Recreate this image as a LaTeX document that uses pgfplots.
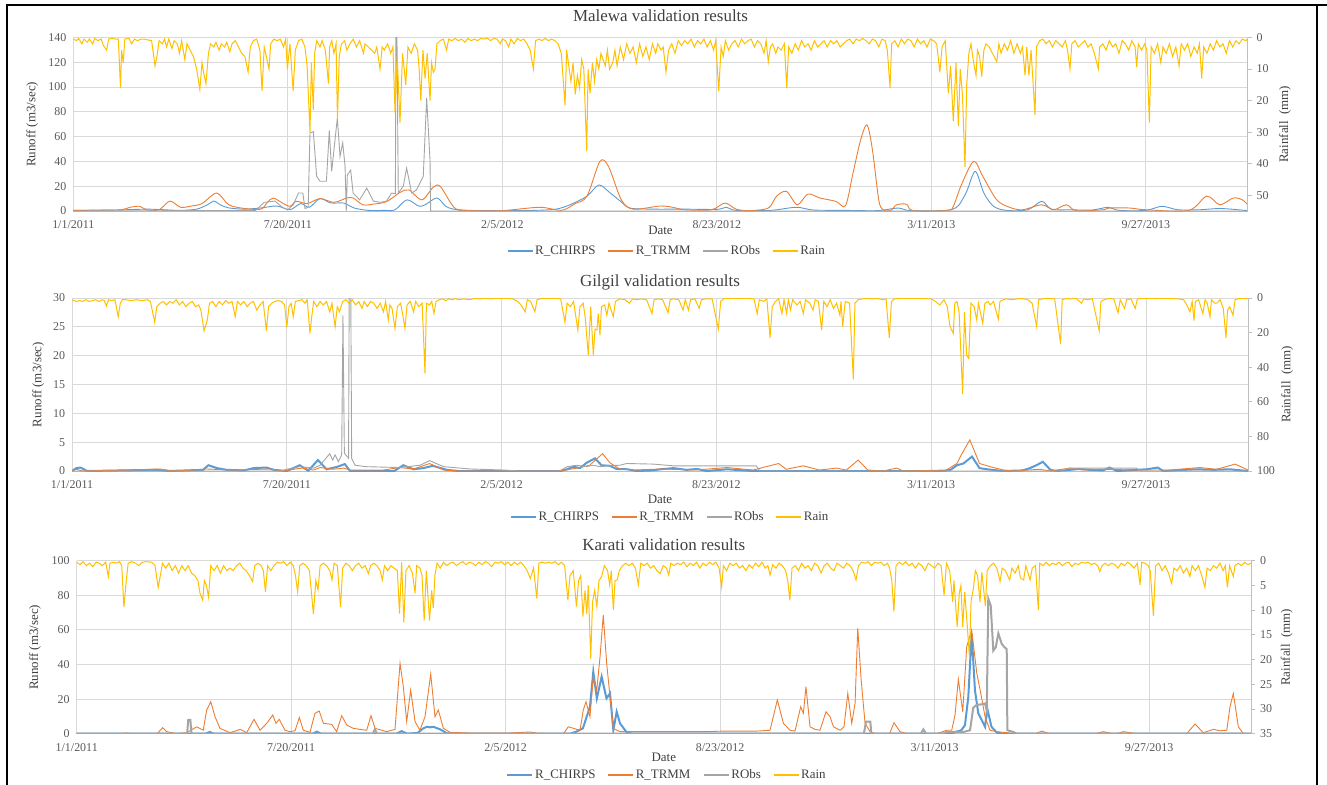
\documentclass[border=0pt]{standalone}
\usepackage{fontspec}
\setmainfont{Liberation Serif}
\usepackage{pgfplots}
\pgfplotsset{compat=1.18}
\definecolor{cblue}{HTML}{5B9BD5}
\definecolor{corange}{HTML}{ED7D31}
\definecolor{cgray}{HTML}{A5A5A5}
\definecolor{cgold}{HTML}{FFC000}
\definecolor{gridc}{HTML}{D9D9D9}
\definecolor{axc}{HTML}{BFBFBF}
\definecolor{txt}{HTML}{595959}
\definecolor{lab}{HTML}{404040}
\pgfplotsset{
  base/.style={
    scale only axis, xmin=0, xmax=1095, ymin=0,
    /pgf/number format/assume math mode=true,
    tick label style={font=\fontsize{12}{14}\selectfont, text=txt},
    label style={font=\fontsize{13}{15}\selectfont, text=lab},
  },
  leftax/.style={base,
    axis x line*=bottom, axis y line*=left,
    x axis line style={draw=axc, line width=0.9bp},
    y axis line style={draw=none},
    major tick length=0pt,
    xtick={0,200,400,600,800,1000},
    xticklabels={1/1/2011,7/20/2011,2/5/2012,8/23/2012,3/11/2013,9/27/2013},
    xmajorgrids, ymajorgrids,
    grid style={draw=gridc, line width=0.9bp},
    xticklabel style={yshift=-6bp},
    yticklabel style={xshift=-3.5bp},
    xlabel={Date}, ylabel={Runoff (m3/sec)},
    title style={font=\fontsize{17}{19}\selectfont, text=lab, anchor=center},
  },
  rightax/.style={base,
    axis y line*=right, axis x line=none,
    y dir=reverse,
    y axis line style={draw=axc, line width=0.9bp},
    ytick style={draw=axc, line width=0.9bp},
    tick align=outside, major tick length=4bp,
    yticklabel style={xshift=1.5bp},
    ylabel={Rainfall\ \ (mm)},
    legend columns=4,
    legend style={draw=none, fill=none, font=\fontsize{13}{15}\selectfont, text=lab, anchor=center, /tikz/every even column/.append style={column sep=10bp}},
    legend image code/.code={\draw[#1] (0bp,0bp) -- (25bp,0bp);},
  },
}
\begin{document}
\begin{tikzpicture}
\path[use as bounding box] (0,0) rectangle (1327bp,-785bp);
\draw[black, line width=1.3bp] (7bp,-785bp) -- (7bp,-5bp) -- (1327bp,-5bp);
\draw[black, line width=1.6bp] (1316.7bp,-5bp) -- (1316.7bp,-785bp);

%================ MALEWA =================
\begin{axis}[leftax, at={(73.3bp,-37.5bp)}, anchor=north west, width=1174.4bp, height=173.5bp,
  ymax=140, ytick={0,20,...,140},
  title={Malewa validation results}, title style={at={(axis description cs:0.5,1.089)}},
  xlabel style={at={(axis description cs:0.5,-0.1095)}, anchor=center},
  ylabel style={at={(axis description cs:-0.0349,0.5)}, anchor=center}]
\addplot[cblue, line width=0.9bp, smooth, tension=0.5] coordinates {(0,0.5)(20,0.6)(40,0.8)(55,1.2)(70,1.5)(85,1)(100,0.5)(115,1.5)(125,5)(131,8)(137,5)(145,2.5)(160,1.5)(175,2.5)(190,4)(202,1)(212,6)(220,3)(230,10)(240,6.5)(252,6.4)(262,2.4)(275,0.5)(290,0.5)(300,1)(311,9)(322,4)(328,5)(339,10.5)(347,4)(354,1.6)(370,0.5)(400,0.3)(430,0.5)(450,1.5)(463,5)(479,12)(490,21)(500,15)(510,8)(519,2.4)(540,1.5)(570,1.5)(600,1.3)(609,3)(618,0.5)(650,0.5)(674,3)(690,0.8)(720,0.5)(750,0.3)(769,2.4)(780,0.3)(810,0.3)(820,1.5)(826,5)(833,15.8)(841,32)(849,14.5)(858,3.8)(870,0.5)(890,1)(903,7.8)(912,1.5)(930,1)(950,0.8)(965,3)(975,0.5)(1000,0.5)(1015,3.8)(1030,1)(1050,1)(1070,2)(1095,0.3)};
\addplot[corange, line width=0.9bp, smooth, tension=0.5] coordinates {(0,0.5)(30,0.8)(45,1)(53,3)(62,3.8)(68,1)(80,1)(90,8)(100,3)(110,4)(120,6)(133.7,14.5)(145,5)(160,2)(175,1.5)(181,7)(186.5,10.5)(195,6.4)(202,3.8)(208,7.8)(218,6)(230,10)(243,7)(255,10.5)(261,10.5)(270,5)(280,5.6)(292,7.5)(304.6,15)(313,17)(325,9)(335.7,19.3)(342,20)(352,6.4)(358,1)(370,0.3)(400,0.3)(435,3)(455,0.5)(468,6)(479,12)(491,40)(499,36)(511,9)(522,1.5)(547,4)(559,3)(570,1)(595,1)(607.6,6.4)(618,1.5)(630,0.3)(648,2.4)(655.8,12)(665,15.8)(675,5)(685,13.7)(696,10.5)(711,7.8)(720,4.3)(727,30.6)(734,57)(740,69.5)(745,50)(751,9)(755,1)(762,0.3)(767.7,5)(777,5.4)(783,0.3)(815,0.5)(820.5,3.8)(828,21)(839.5,40)(848,28)(861,9)(873,3)(885,1)(903,5)(914,1)(926,5)(935,0.3)(960,1)(966,2.4)(985,2.4)(1000,1)(1040,0.5)(1056.8,12)(1069,5)(1081.6,10.5)(1090,9)(1095,5)};
\addplot[cgray, line width=0.9bp] coordinates {(0,0)(170,0.5)(178,7)(188,8)(195,3)(200,1)(205,5)(210,14.5)(214,14.5)(216,2)(219,3)(220.7,63)(223.8,64)(226.9,28)(230,24)(236,24)(238.7,65)(240.9,32)(246.2,75)(248.7,44)(251.2,55)(253.4,36)(254.5,0)(255.5,29)(258.6,33)(260.9,14.5)(267,9)(273.6,18.5)(279.8,8)(286,7)(292,8)(296.8,14.5)(300.3,14)(300.9,160)(301.6,160)(303,14.5)(307.7,20)(310.8,34.6)(315.5,14.5)(320,17)(326.3,28)(329.5,91)(332.6,41)(333.2,0)(1095,0)};
\end{axis}
\begin{axis}[rightax, at={(73.3bp,-37.5bp)}, anchor=north west, width=1174.4bp, height=173.5bp,
  ymax=55, ytick={0,10,...,50},
  ylabel style={at={(axis description cs:1.0318,0.5)}, anchor=center},
  legend style={at={(0.5055,-0.2305)}}]
\addlegendimage{cblue, line width=1.2bp}\addlegendentry{R\_CHIRPS}
\addlegendimage{corange, line width=1.2bp}\addlegendentry{R\_TRMM}
\addlegendimage{cgray, line width=1.2bp}\addlegendentry{RObs}
\addplot[cgold, line width=1bp, forget plot] coordinates {(0,0.5)(3,1)(5,0.3)(8,2)(10,0.5)(13,1.5)(15,0.5)(18,2)(20,0.3)(23,1)(26,0.5)(28,2.5)(31,4)(33,0.5)(36,0.3)(40,0.5)(42,0.5)(44,16)(45,4)(46.6,8)(48,0.5)(52,0.3)(54.4,2)(57,0.5)(60,1)(63,0.5)(66,0.5)(70,0.8)(73,1)(76.2,9)(78,6)(80,1)(83,2)(85,0.5)(87,3)(89,0.5)(92,3.5)(94,1)(97,2)(99,5)(101,1)(104,7)(106,2)(109,4)(112,6)(115,10)(118,16.5)(120,8)(122,12)(123.7,14.6)(126,5)(128,2)(131,3)(133,1.5)(136,4)(138,2)(141,3)(143,1.5)(146,4.5)(148,2)(151,1)(154,3)(157,5)(160,6)(163,11)(165,3)(168,1)(171,0.5)(174,4)(176,17)(178,3)(180,6)(182.5,10)(184,2)(187,0.5)(190,1)(193,0.5)(196,3)(198,0.5)(199.6,10)(202,2)(205,17)(207,4)(210,1)(213,0.5)(216,3)(218,9)(220.7,30)(222,8)(223.8,23)(225,5)(227,1)(230,3)(232,1)(235,4)(237.9,14.6)(239,3)(241,1)(243,5)(245,2)(246.3,25.7)(248,6)(250,2)(253,1)(255,4)(258,2)(261,0.5)(264,3)(267,1)(270.6,5)(272,2)(275,3)(278,4)(281,5)(283,3)(286,10)(288,3)(290,4)(293,2)(296,5)(298,3)(300,24)(302,6)(304.6,27)(307,5)(310,15)(312,3)(315,5)(318,2)(321,4)(322.5,10)(324,20)(326,4)(328,13)(330,5)(332.6,20)(334,8)(335.7,11)(337.3,10)(339,2)(342,1)(345,0.5)(348,4)(350,0.5)(353,1)(356,0.3)(359,1)(362,0.5)(365,1.5)(368,0.3)(371,1)(374,0.5)(377,1)(380,0.3)(383,0.5)(386,0.2)(389,1)(392,0.3)(395,0.5)(398,2)(400,0.5)(403,1)(406,3)(408,0.5)(411,2)(414,0.3)(417,1)(420,0.5)(423,2)(426,4)(429,10)(431,1)(434,0.5)(437,1)(440,0.3)(443,1)(446,0.5)(449,1)(452,2)(455,5)(458.5,21.5)(460,4)(462,9)(464,14)(466,8)(468,18)(470,12)(472,16)(474,7)(476,10)(478.7,36)(480,10)(481.8,17.7)(484,8)(486,14)(488,7)(490,10)(492,5)(494,7)(496,9)(498,4)(500,10)(503,8)(505,4)(507,9)(510,3)(513,7)(516,2)(519,5)(522,3)(525,8)(528,2)(531,6)(534,3)(537,7)(540,2)(543,5)(545,2)(548,4)(550,3)(552.6,11)(555,4)(558,2)(561,5)(564,1)(567,2.5)(570,1)(573,2)(576,0.5)(579,3)(582,1)(585,2)(588,0.5)(591,3)(594,1)(597,4)(599,1)(601.8,17)(604,3)(606,6)(608,1)(611,4)(614,2)(617,1)(620,3)(623,0.5)(626,2)(629,1)(632,0.5)(635,3)(638,1)(641,2)(644,5)(646,1)(648,7.7)(650,3)(652,2)(655,5)(657,3)(660,4)(663,2)(665.2,16)(667,3)(670,5)(673,2)(676,4)(679,1)(682,3)(685,2)(688,4)(691,1)(694,3)(697,2)(700,1)(703,3)(706,1)(709,2)(712,1)(715,3)(718,2)(721,1)(724,0.5)(727,2)(730,0.5)(733,1)(736,0.3)(739,1)(742,2)(745,0.5)(748,1)(751,3)(754,0.5)(757,1)(759,4)(761.5,16)(763,2)(766,1)(769,3)(772,0.5)(775,2)(778,0.5)(781,1)(784,3)(787,0.5)(790,2)(793,1)(796,3)(799,0.5)(802,1)(805,2)(808,11)(810,3)(813,1)(815.9,17.7)(818,9)(820.5,26.6)(823,8)(825.2,28)(827,10)(829,18)(831.4,41)(833,15)(835,5)(837,2)(839,7)(841.7,12)(843,4)(845,6)(847,12.4)(849,4)(851,2)(854,3)(857,5)(861,7.7)(863,2)(865,5)(868,2)(871,4)(874,1)(877,5)(880,2)(883,5)(885,3)(887.4,12)(889,3)(891,12)(893,4)(896.7,24.5)(898,3)(901,1)(904,0.5)(907,2)(910,1)(913,3)(916,1)(919,2)(922,3)(925,1)(927,4)(929.3,10)(931,2)(934,1)(937,3)(940,2)(943,1)(946,3)(949,2)(952,5)(955.7,10)(957,3)(960,2)(963,4)(966,1)(969,3)(972,2)(975,5)(978,1)(981,2)(984,4)(987,1)(990,3)(991.5,9.3)(993,2)(996,4)(999,2)(1001,4)(1003.3,27)(1005,3)(1008,5)(1011,2)(1014,8)(1016,3)(1019,5)(1022,2)(1025,6)(1028,3)(1031,9)(1033,2)(1036,4)(1039,2)(1042,6)(1045,3)(1048,5)(1050,2)(1052.1,13)(1054,3)(1057,5)(1060,2)(1063,4)(1066,1)(1069,3)(1072,2)(1075,5)(1078,1)(1081,3)(1084,1)(1087,2)(1090,0.5)(1093,1)(1095,0.5)};
\addlegendimage{cgold, line width=1.2bp}\addlegendentry{Rain}
\end{axis}

%================ GILGIL =================
\begin{axis}[leftax, at={(72bp,-298bp)}, anchor=north west, width=1176bp, height=173bp,
  ymax=30, ytick={0,5,...,30},
  title={Gilgil validation results}, title style={at={(axis description cs:0.5,1.058)}},
  xlabel style={at={(axis description cs:0.5,-0.162)}, anchor=center},
  ylabel style={at={(axis description cs:-0.0287,0.5)}, anchor=center}]
\addplot[cblue, line width=2bp] coordinates {(0,0)(4,0.5)(8,0.6)(14,0)(79,0.2)(90,0)(122,0.2)(127,1.0)(135,0.5)(144,0.2)(160,0.1)(169,0.5)(181,0.6)(188,0.2)(200,0)(212,1.0)(220,0.05)(229,1.9)(237,0.3)(246.5,0.7)(254,1.2)(259,0)(300,0)(308.5,1.0)(318,0.3)(327,0.5)(336,0.9)(349,0.2)(360,0)(455,0)(461,0.3)(467,0.75)(473,0.5)(479,1.4)(487,2.2)(493,1.0)(501,0.9)(507,0.35)(517,0.3)(526,0)(540,0.1)(548,0.3)(560,0.5)(572,0.2)(582,0.35)(591,0)(610,0.3)(634,0)(812,0)(818,0.2)(824,1.0)(830,1.3)(838,2.5)(845,0.5)(852,0.3)(867,0)(885,0.1)(892,0.5)(898,1.0)(904,1.6)(911,0.2)(917,0)(929,0.2)(938,0.35)(948,0.2)(960,0.1)(966,0.6)(973,0)(991,0.2)(1001,0.3)(1011,0.6)(1016,0)(1047,0.3)(1063,0.2)(1078,0.3)(1095,0)};
\addplot[corange, line width=0.9bp] coordinates {(0,0.1)(4,0.3)(10,0)(51,0.17)(82,0.35)(94,0)(113,0.17)(125,0.35)(150,0.17)(175,0.3)(184,0.35)(197,0)(206,0.3)(214,0.5)(225,0.17)(231,0.6)(243,0.3)(253,0.5)(259,0.17)(290,0.17)(305,0.6)(318,0.35)(333,1.3)(346,0.17)(361,0)(454,0)(470,0.5)(482,1.0)(494,3.0)(501,1.4)(510,0.35)(523,0.17)(549,0.35)(580,0.17)(610,0.6)(634,0.17)(658,1.3)(665,0.3)(681,0.9)(696,0.17)(712,0.5)(721,0.17)(732,1.9)(741,0.17)(755,0)(768,0.5)(774,0)(814,0.17)(824,1.3)(828,2.8)(836,5.4)(845,1.3)(855,0.75)(867,0.17)(877,0)(901,0.3)(911,0)(929,0.5)(942,0.17)(960,0.3)(991,0.17)(1022,0.17)(1050,0.6)(1066,0.3)(1083,1.2)(1095,0.17)};
\addplot[cgray, line width=0.9bp] coordinates {(0,0)(195,0)(200,0.3)(212,0.75)(225,0.5)(231,1.0)(240,3.0)(242.7,1.9)(245,2.8)(248,1.6)(251.1,2.8)(252.3,27)(253.6,3.1)(257.5,2.2)(258.3,40)(259.3,40)(260.4,2.2)(263.5,1.0)(274,0.75)(305,0.6)(324,1.0)(333,1.8)(346,0.75)(371,0.35)(402,0.17)(417,0)(454,0)(461,0.75)(470,1.0)(479,0.75)(485,1.0)(492,0.75)(498,0.9)(510,1.0)(516.5,1.3)(541,1.2)(560,0.9)(603,0.9)(637,0.9)(640.6,0)(920,0)(929,0.5)(991,0.5)(995,0)(1095,0)};
\end{axis}
\begin{axis}[rightax, at={(72bp,-298bp)}, anchor=north west, width=1176bp, height=173bp,
  ymax=100, ytick={0,20,...,100},
  ylabel style={at={(axis description cs:1.0334,0.5)}, anchor=center},
  legend style={at={(0.5085,-0.266)}}]
\addlegendimage{cblue, line width=2bp}\addlegendentry{R\_CHIRPS}
\addlegendimage{corange, line width=1.2bp}\addlegendentry{R\_TRMM}
\addlegendimage{cgray, line width=1.2bp}\addlegendentry{RObs}
\addplot[cgold, line width=1bp, forget plot] coordinates {(0,1)(4,2)(7,1.5)(10,2)(13,1)(16,2)(19,1.5)(22,1)(25,2)(28,1)(30,1.5)(32,4.6)(34,1)(37,1.5)(40,1)(43,10.8)(45,3)(47,1)(50,1)(55,1.5)(60,1)(65,1.5)(70,1)(73,2)(77,14)(79,5)(82,3)(85,2)(88,4)(91,2)(94,3)(97,1)(100,4)(103,2)(106,5)(109,3)(112,2)(115,5)(118,4)(120,7)(123,19)(126,12.7)(128,3)(131,2)(134,5)(137,2)(140,4)(143,1.5)(146,3)(149,2)(152,10.8)(154,2)(157,4)(160,2)(163,5)(166,3)(169,2)(172,7)(175,4)(178,2)(181,19)(183,5)(186,3)(189,2)(192,1.5)(195,2)(198,4)(200,17)(202,5)(204,3)(206,10.8)(208,2)(211,1.5)(214,1)(217,3)(219,1)(221.6,20.4)(223,12)(225,2)(228,5)(231,2)(234,4)(237,2)(240,8)(242,3)(245,16.6)(247,5)(249,8)(252,2)(255,1)(258,3)(261,1)(264,4)(267,2)(270,6)(272,2)(275,5)(278,2)(281,3)(284,6)(287,3)(290,8)(292,2)(294.5,12.7)(296,4)(298,6)(300.7,17.5)(303,5)(306,3)(308,10)(310,17.5)(312,4)(315,2)(318,8)(320,2)(323,5)(326,3)(328.7,43.5)(330,3)(333,4)(335,2)(337,9)(339,2)(342,1)(345,0.5)(348,1.5)(351,0.5)(354,1)(357,0.3)(360,1)(365,0.5)(370,1)(375,0.3)(380,0.5)(385,0.2)(390,0.5)(395,0.2)(400,0.3)(405,0.2)(410,0.5)(415,2)(418,4)(422,8)(424,1)(427,2)(431,8)(433,1)(436,0.5)(440,0.2)(450,0.2)(455,0.5)(459,14)(461,3)(464,5)(467,2)(471,18.5)(473,5)(476,3)(478,12)(480.7,33)(483,5)(485.4,33)(487,18)(488.8,18.5)(490,9)(491.6,21.4)(493,5)(496,4)(498,10)(500,3)(504,10.8)(506,2)(510,0.5)(515,1)(519,3)(522,0.5)(526,1)(530,0.5)(535,1)(540,9)(542,1)(546,0.5)(550,1)(555,8.5)(557,1)(560,0.5)(565,1)(569,7)(571,1)(574,7)(576,1)(580,0.5)(584,6)(586,1)(590,0.5)(596,0.5)(601.8,18)(604,2)(607,0.3)(612,0.2)(620,0.3)(625,0.2)(630,0.3)(635,0.5)(638,9)(640,1)(644,2)(647,0.5)(650,23)(652,5)(655,2)(658,0.5)(661,9)(663,1)(665.4,8.9)(667,1)(669,7)(671,1)(675,4)(678,2)(681,9)(683,1)(687,3)(690,7)(692,1)(695,2)(698,18.5)(700,2)(703,5)(706,1)(709,6)(712,3)(715,10)(716,2)(717.6,16.5)(720,2)(724,3)(727.5,47)(729,3)(732,1)(736,0.5)(740,0.3)(745,0.5)(750,0.3)(755,1)(758,0.5)(761,23)(763,2)(766,0.5)(770,0.3)(780,0.2)(790,0.3)(800,0.5)(804,2)(808,4)(812,1)(815,5)(817.5,16.5)(820.6,20.4)(822,3)(824,2)(826,8)(829.3,55.5)(831,8)(833,33)(835,35)(837,3)(840,5)(842.4,12.7)(844,3)(848,14.6)(850,3)(853,2)(855,4)(858,2)(862.5,12.3)(864,2)(867,1)(870,0.5)(875,1)(880,0.5)(885,0.3)(890,1)(894,3)(898.2,16.5)(900,1)(905,0.3)(910,0.2)(915,0.5)(920.5,26.6)(922,1)(926,0.3)(930,0.5)(935,0.3)(940,3)(942,0.5)(946,1)(950,0.3)(956.5,19)(958,2)(961,1)(965,0.3)(970,0.5)(974,8.5)(976,1)(980,6)(982,1)(986,0.5)(990,6)(992,0.5)(995,0.3)(1000,0.2)(1010,0.3)(1020,0.2)(1030,0.5)(1035,1)(1038,4)(1041,8)(1043,2)(1044.7,13)(1046,2)(1049,1)(1053,9)(1055,1)(1057,3)(1059.6,10.8)(1061,1)(1064,3)(1066,3)(1069,1)(1072,6)(1074.5,23)(1076,7)(1078,5)(1081,10)(1083,1)(1086,0.3)(1090,0.2)(1095,0.3)};
\addlegendimage{cgold, line width=1.2bp}\addlegendentry{Rain}
\end{axis}

%================ KARATI =================
\begin{axis}[leftax, at={(76.7bp,-560.7bp)}, anchor=north west, width=1174.3bp, height=173bp,
  ymax=100, ytick={0,20,...,100},
  title={Karati validation results}, title style={at={(axis description cs:0.5,1.056)}},
  xlabel style={at={(axis description cs:0.5,-0.139)}, anchor=center},
  ylabel style={at={(axis description cs:-0.0355,0.5)}, anchor=center}]
\addplot[cblue, line width=2bp] coordinates {(0,0)(120,0)(124,1)(128,0)(220,0)(224,1.2)(228,0)(298,0)(303,1.5)(308,0)(318,0.5)(323,3)(326.5,4)(329.5,3.7)(332.5,4)(339,2.5)(345,0.3)(350,0)(460,0)(466,1.2)(472,3.1)(478.6,15.6)(481.7,35.8)(485,20.4)(489.5,33)(494,20.4)(497.3,23.3)(500.4,2)(503.5,12.7)(506.6,6)(513,0.6)(519,0)(815,0)(820.6,1.2)(825,2.1)(828.3,5)(831.4,21.4)(834.5,58)(837.6,25)(840.7,11.8)(847,4)(849,14.6)(853,4)(858,0.6)(864,0)(1095,0)};
\addplot[corange, line width=0.9bp] coordinates {(0,0)(40,0)(46.6,0.4)(52,0)(75,0)(80.2,3.5)(83.9,1.2)(93.2,0)(102.6,0.6)(111.9,4)(118,2)(121.2,13.7)(125,18.5)(129,9.8)(133.6,3.1)(143,0.6)(152.3,2.5)(158.5,0.6)(165.3,8.3)(171,2)(177.2,6)(182.8,10.8)(185.8,6)(188.9,8.3)(194.2,2)(198.9,1.2)(203.6,1.7)(207.6,9.4)(211.3,2)(217.5,0.8)(222.2,11.8)(226.2,13.1)(230,6)(237.8,5.4)(242.4,1.2)(247.1,10.4)(251.8,5)(258,3.1)(264.2,2.5)(270.4,2)(274.4,10.4)(278.2,3.1)(289,1.2)(296.8,2.5)(301.5,40.7)(304.6,27)(307.7,7)(311.4,25.2)(315.5,7)(320,2)(324.8,9.8)(330.1,34.5)(334.1,9.8)(337.2,13.7)(341.9,3.1)(348.1,0.8)(366.7,0.4)(400,0.3)(422.7,1)(430,0.2)(453.8,0)(458.4,4)(469.3,2)(472.4,13.7)(474.9,18.5)(478.6,9.8)(481.7,33)(484.9,25)(488,44.5)(491,68.6)(494.2,40.5)(497.3,21.4)(500.4,3.1)(506.6,1.2)(525.3,1.2)(544,1.2)(587.5,1.2)(603,1.5)(634,1.5)(646.5,2)(653.3,19.5)(659,6)(665.1,2)(669.8,1.5)(675.1,15.6)(677.6,11.8)(680,27.2)(683.8,4)(688.5,2.5)(693.1,2)(698.7,12.7)(702.5,9.8)(705.6,4)(711.8,2)(715.5,4)(719,23.3)(722.7,6)(725.8,17.5)(728.3,61)(731.4,31.6)(735.1,6)(739.8,1.2)(745,0)(758,0)(762.1,6.4)(767.7,1.2)(774,0)(802,0)(811.3,2)(815.9,2)(819,10.8)(822.1,31.4)(826.2,12.7)(829.9,50.3)(834.5,60)(839.3,35)(843.3,22.4)(847,9.8)(851.6,2)(857.9,1.2)(867.2,0.6)(873.4,0)(894,0)(899.8,1.5)(907.6,0)(950,0)(957.3,1.2)(966,0)(970,0)(976,1.2)(988.4,0)(1035,0)(1042.8,5.6)(1050.6,0.6)(1059.9,2.5)(1066.1,1.7)(1072.4,2)(1075.4,15.6)(1078.5,23.3)(1083.2,4)(1087.9,0)(1095,0)};
\addplot[cgray, line width=2bp] coordinates {(0,0)(103,0)(104,8)(106,8)(107,0)(276,0)(278,2.5)(280,0)(734,0)(736,7)(740,7)(741,0)(787,0)(789.5,2.5)(792,0)(808,0)(811,1)(827,1)(833,2)(836,15)(839,16.6)(844,17)(847,17.5)(848.6,13.5)(850,78)(852.3,74)(854.7,48)(857,50)(859.4,58)(862.5,52)(865,50)(867.2,49)(867.8,2)(873.4,1)(876.5,0)(1095,0)};
\end{axis}
\begin{axis}[rightax, at={(76.7bp,-560.7bp)}, anchor=north west, width=1174.3bp, height=173bp,
  ymax=35, ytick={0,5,...,35},
  ylabel style={at={(axis description cs:1.0304,0.5)}, anchor=center},
  legend style={at={(0.5026,-0.2387)}}]
\addlegendimage{cblue, line width=2bp}\addlegendentry{R\_CHIRPS}
\addlegendimage{corange, line width=1.2bp}\addlegendentry{R\_TRMM}
\addlegendimage{cgray, line width=2bp}\addlegendentry{RObs}
\addplot[cgold, line width=1bp, forget plot] coordinates {(0,0.3)(3,0.8)(6,0.2)(9,1)(12,0.5)(15,1.2)(18,0.3)(21,0.5)(24,1)(27,0.3)(29.5,3.2)(31,0.5)(34,0.3)(37,0.5)(40,0.2)(42,1)(44,9.4)(46,4.5)(48,0.5)(51,0.2)(55,0.5)(58,1)(61,0.3)(65,0.2)(70,0.3)(73,1)(76,5.4)(78,3)(80,0.5)(83,1.5)(86,0.5)(89,2)(92,1)(95,2.5)(98,1)(101,2)(104,1)(107,2.5)(110,3)(113,4)(115,6.6)(117.5,8)(119,4)(121,5)(123,7.4)(125,1)(128,2)(131,1)(134,2.5)(137,1)(140,2)(143,1.5)(146,2)(149,1)(152,0.5)(155,1.5)(158,2)(161,3)(164,4.2)(166,1)(169,0.5)(172,1)(174,2)(176,6.3)(178,1)(181,2)(184,1)(187,0.3)(190,0.5)(193,0.2)(196,1)(199,0.3)(202,1)(204,3)(206,6.3)(208,1)(211,0.5)(214,1)(217,2)(220.7,10.8)(223,4)(225,5.9)(227,1)(230,0.5)(233,1)(236,2)(238,3.9)(240,0.5)(243,1)(246,9.4)(248,1.5)(251,0.5)(254,1)(257,2)(260,1)(263,0.5)(266,1.5)(269,1)(272,2.6)(274,1)(277,0.5)(280,1)(283,2)(285,3.9)(287,1)(290,2)(293,1)(296,1.5)(299,2)(301,10.7)(303,0.3)(305,12.5)(307,2)(310,1)(313,2.5)(315.5,6.6)(317,1)(320,1.5)(322,3)(324,12.1)(326,2)(329,12.1)(331,6)(332.5,9.6)(334,3)(336,0.5)(339,1.5)(342,0.3)(345,1)(348,0.5)(351,0.3)(354,1)(357,0.5)(360,0.2)(363,0.8)(366,0.3)(369,0.5)(372,1)(375,0.3)(378,0.8)(381,0.2)(384,0.5)(387,1.2)(390,0.3)(393,0.5)(396,0.2)(399,0.8)(402,0.3)(405,1)(408,0.3)(411,0.8)(414,0.3)(417,1)(420,2)(423,3.6)(426,1.5)(429,7.6)(431,0.5)(434,0.3)(437,0.5)(440,0.3)(443,0.5)(446,0.2)(449,0.8)(452,0.3)(455,1)(458,8)(460,3)(463,2)(466,9.3)(468,4)(470,3)(472,11.3)(474,6)(475.6,10.7)(477,5)(479.3,19.8)(481,8.3)(483,6)(485,9.3)(487,4)(489.5,3.2)(492,1)(495,2)(497,4.9)(498.5,2)(500.4,10)(502,4)(504,3.9)(506,2)(509,1)(512,0.5)(515,1)(518,0.5)(521,1.5)(523.7,4.9)(526,0.5)(529,1)(532,0.5)(535,1.5)(538,1)(541,2)(544,2.6)(547,1)(550,1.5)(552,2.9)(554,0.5)(557,1)(560,0.5)(563,0.8)(566,0.3)(569,1.2)(572,0.5)(575,1)(578,0.3)(581,1.5)(584,0.5)(587,1)(590,0.3)(593,0.8)(596,0.3)(599,1.5)(601.4,5.3)(603,1)(606,2)(609,0.5)(612,1)(615,0.5)(618,1.5)(621,1)(624,2)(627,0.8)(630,1.5)(633,0.5)(636,1.2)(639,0.3)(642,1.5)(644.5,1)(646.5,2.9)(649,0.8)(652,1.5)(655,0.5)(658,1)(661,2)(663,4)(665,8)(667,1.5)(670,1)(673,2)(676,0.5)(679,1.5)(682,1)(685,2)(688,0.5)(691,1)(694,2.5)(697,1)(700,0.5)(703,1.5)(706,2)(709,0.5)(712,1)(715,1.5)(718,0.5)(721,1)(724,2)(726.7,3.9)(729,1)(732,0.3)(735,0.5)(738,0.2)(741,1)(744,0.3)(747,0.5)(750,0.3)(753,1)(756,0.5)(758,1.5)(760,3.9)(762,10.3)(764,1)(767,0.3)(770,0.8)(773,0.2)(776,1)(779,0.5)(782,1.5)(785,0.5)(788,1)(791,2)(794,0.5)(797,1)(800,1.5)(803,0.5)(806,1)(808.8,7)(811,0.5)(814,2)(816.8,8.3)(818,4)(821,13.4)(823,6.5)(824.5,5)(826.2,13.4)(828,6.3)(830.5,13.4)(832.4,19.4)(834,8)(836,5.8)(838,2)(840,3)(842.3,8.3)(844,2.3)(847.3,9.2)(849,2)(852,1)(855,0.5)(858,1.5)(861,4.2)(863,1.5)(866,2)(868,3)(870,3.9)(872,1.5)(875,2.5)(878,1)(880,3.5)(883,3.9)(885,1)(889,3.9)(891,1.5)(894,1)(896.7,10)(898,0.5)(901,1)(904,0.3)(907,1)(910,0.5)(913,0.8)(916,0.3)(919,1)(922,0.5)(925,0.3)(928,1.2)(931,0.5)(934,0.8)(937,0.3)(940,0.5)(943,0.3)(946,0.8)(949,0.5)(952,1)(954,2.2)(956,1)(959,0.5)(962,1)(965,0.5)(968,0.8)(971,1.5)(974,0.5)(977,1)(980,0.3)(983,0.8)(986,1.5)(989,0.5)(991.5,4.9)(993,0.3)(996,0.5)(999,1)(1001,2)(1004,11.2)(1006,1)(1009,0.5)(1012,2)(1015,1)(1018,2.5)(1021,4.6)(1023,1.5)(1026,2)(1029,1)(1032,2.5)(1035,1.5)(1038,3.2)(1040,1)(1043,2)(1046,1)(1049,3)(1052,5.4)(1054,1.5)(1057,2)(1060,1)(1063,1.5)(1066,0.5)(1069,2)(1071,1)(1073,5.4)(1075,1)(1078.5,3.2)(1080,1)(1083,0.5)(1086,1)(1089,0.3)(1092,0.8)(1095,0.5)};
\addlegendimage{cgold, line width=1.2bp}\addlegendentry{Rain}
\end{axis}
\end{tikzpicture}
\end{document}
